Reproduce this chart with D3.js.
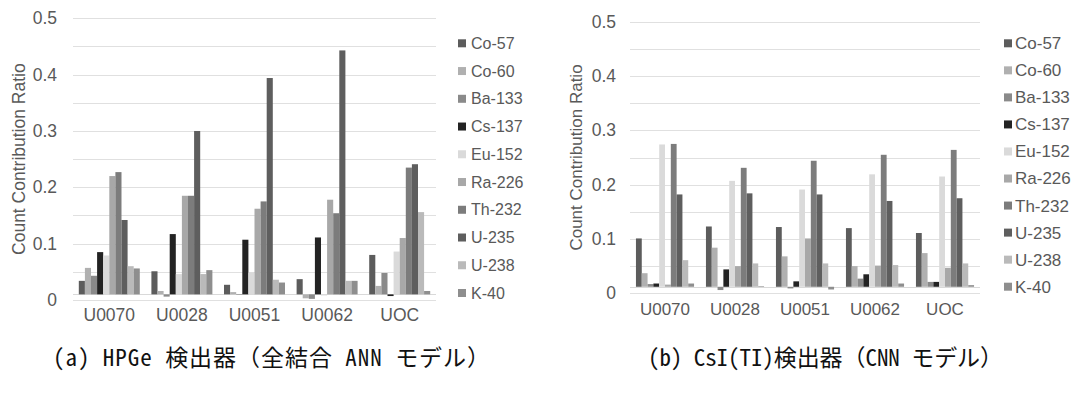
<!DOCTYPE html>
<html>
<head>
<meta charset="utf-8">
<script src="https://cdn.jsdelivr.net/npm/d3@7"></script>
<style>
  body { margin: 0; background: #fff; }
  svg { display: block; }
  text { font-family: "Liberation Sans", Arial, sans-serif; fill: #595959; }
  .caption { font-family: "Noto Sans Mono CJK JP", "Noto Sans CJK JP", sans-serif; fill: #111; }
</style>
</head>
<body>
<div id="chart"></div>
<script>
const categories = ["U0070", "U0028", "U0051", "U0062", "UOC"];
const nuclides = ["Co-57", "Co-60", "Ba-133", "Cs-137", "Eu-152", "Ra-226", "Th-232", "U-235", "U-238", "K-40"];
const yTicks = [0, 0.1, 0.2, 0.3, 0.4, 0.5];

// one row per sample, columns follow nuclides
const hpgeValues = [
  [0.034, 0.057, 0.043, 0.085, 0.079, 0.220, 0.227, 0.142, 0.060, 0.056],
  [0.051, 0.016, 0.006, 0.117, 0.046, 0.185, 0.185, 0.300, 0.046, 0.053],
  [0.027, 0.014, 0.010, 0.107, 0.049, 0.162, 0.175, 0.394, 0.036, 0.031],
  [0.037, 0.003, 0.002, 0.111, 0.008, 0.178, 0.154, 0.443, 0.034, 0.034],
  [0.080, 0.025, 0.048, 0.007, 0.086, 0.110, 0.235, 0.241, 0.156, 0.016]
];
const csiValues = [
  [0.101, 0.037, 0.017, 0.018, 0.274, 0.016, 0.275, 0.182, 0.061, 0.018],
  [0.123, 0.084, 0.006, 0.044, 0.207, 0.050, 0.231, 0.184, 0.055, 0.013],
  [0.122, 0.068, 0.009, 0.022, 0.191, 0.101, 0.244, 0.182, 0.055, 0.007],
  [0.120, 0.050, 0.027, 0.035, 0.219, 0.051, 0.255, 0.170, 0.052, 0.018],
  [0.111, 0.074, 0.021, 0.021, 0.215, 0.047, 0.264, 0.175, 0.055, 0.015]
];
const captions = ["(a) HPGe 検出器（全結合 ANN モデル）", "(b) CsI(TI)検出器（CNN モデル）"];

const grays = ["#5c5c5c", "#b0b0b0", "#8a8a8a", "#232323", "#dadada", "#a8a8a8", "#7c7c7c", "#5e5e5e", "#bababa", "#8e8e8e"];

class barPanel {
  constructor(svg, values, config) {
    this.svg = svg;
    this.values = values;
    this.cfg = config;
    this.draw();
  }

  draw() {
    const c = this.cfg;
    const g = this.svg.append("g");

    const x0 = d3.scaleBand().domain(categories).range([c.left, c.right])
      .paddingInner(c.pad).paddingOuter(c.pad / 2);
    const x1 = d3.scaleBand().domain(nuclides).range([0, x0.bandwidth()]);
    const y = d3.scaleLinear().domain([0, 0.5]).range([c.zero, c.top]);

    // gridlines every 0.05
    g.append("g").selectAll("line")
      .data(d3.range(0, 11).map(i => i * 0.05))
      .enter().append("line")
      .attr("x1", c.left).attr("x2", c.right)
      .attr("y1", d => Math.round(y(d)) + 0.5).attr("y2", d => Math.round(y(d)) + 0.5)
      .attr("stroke", "#e0e0e0");

    g.append("line")
      .attr("x1", c.left).attr("x2", c.right)
      .attr("y1", Math.round(y(c.base)) + 0.5).attr("y2", Math.round(y(c.base)) + 0.5)
      .attr("stroke", "#d9d9d9");

    const yAxis = d3.axisLeft(y).tickValues(yTicks).tickSize(0).tickPadding(0)
      .tickFormat(d => d === 0 ? "0" : d3.format(".1f")(d));
    const ya = g.append("g").attr("transform", `translate(${c.tickX},0)`).call(yAxis);
    ya.select(".domain").remove();
    ya.selectAll("text").attr("font-size", c.tickFont).attr("fill", "#595959")
      .attr("font-family", "Liberation Sans, Arial, sans-serif");

    g.append("text")
      .attr("transform", `translate(${c.titleX},${(c.top + c.zero) / 2}) rotate(-90)`)
      .attr("text-anchor", "middle").attr("dy", "0.35em")
      .attr("font-size", c.titleFont)
      .text("Count Contribution Ratio");

    const groups = g.append("g").selectAll("g")
      .data(this.values)
      .enter().append("g")
      .attr("transform", (d, i) => `translate(${x0(categories[i])},0)`);

    groups.selectAll("rect")
      .data(d => d.map((v, j) => ({ name: nuclides[j], value: v })))
      .enter().append("rect")
      .attr("x", d => x1(d.name))
      .attr("width", x1.bandwidth())
      .attr("y", d => y(Math.max(d.value, c.base)))
      .attr("height", d => Math.max(Math.abs(y(d.value) - y(c.base)), 0.6))
      .attr("fill", (d, j) => grays[j]);

    g.append("g").selectAll("text")
      .data(categories)
      .enter().append("text")
      .attr("x", d => x0(d) + x0.bandwidth() / 2)
      .attr("y", c.catY)
      .attr("dy", "0.35em")
      .attr("text-anchor", "middle")
      .attr("font-size", c.catFont)
      .text(d => d);

    const ly = d3.scaleLinear().domain([0, nuclides.length - 1]).range([c.legTop, c.legBottom]);
    const legend = g.append("g").selectAll("g")
      .data(nuclides)
      .enter().append("g")
      .attr("transform", (d, i) => `translate(${c.legX},${ly(i)})`);
    legend.append("rect")
      .attr("x", 0).attr("y", -4).attr("width", 8).attr("height", 8)
      .attr("fill", (d, i) => grays[i]);
    legend.append("text")
      .attr("x", c.legText).attr("dy", "0.35em")
      .attr("font-size", c.legFont)
      .text(d => d);

    this.svg.append("text")
      .attr("class", "caption")
      .attr("x", c.capX).attr("y", c.capY)
      .attr("font-size", 23)
      .attr("textLength", c.capLen).attr("lengthAdjust", "spacing")
      .text(c.caption);
  }
}

const svg = d3.select("#chart").append("svg")
  .attr("width", 1074).attr("height", 393);

new barPanel(svg, hpgeValues, {
  left: 73, right: 436, pad: 0.16, zero: 300, top: 18.3, base: 0.01,
  tickX: 57, tickFont: 17.5, titleX: 18.5, titleFont: 17.5,
  catY: 315, catFont: 17.5,
  legX: 458, legText: 13, legTop: 43.3, legBottom: 293, legFont: 16,
  capX: 53, capY: 366, capLen: 437, caption: captions[0]
});

new barPanel(svg, csiValues, {
  left: 630, right: 980, pad: 0.17, zero: 293.3, top: 21.7, base: 0.012,
  tickX: 616, tickFont: 17.5, titleX: 576.5, titleFont: 17,
  catY: 309, catFont: 17,
  legX: 1004, legText: 11, legTop: 43.3, legBottom: 286.7, legFont: 17,
  capX: 648, capY: 366, capLen: 355, caption: captions[1]
});
</script>
</body>
</html>
